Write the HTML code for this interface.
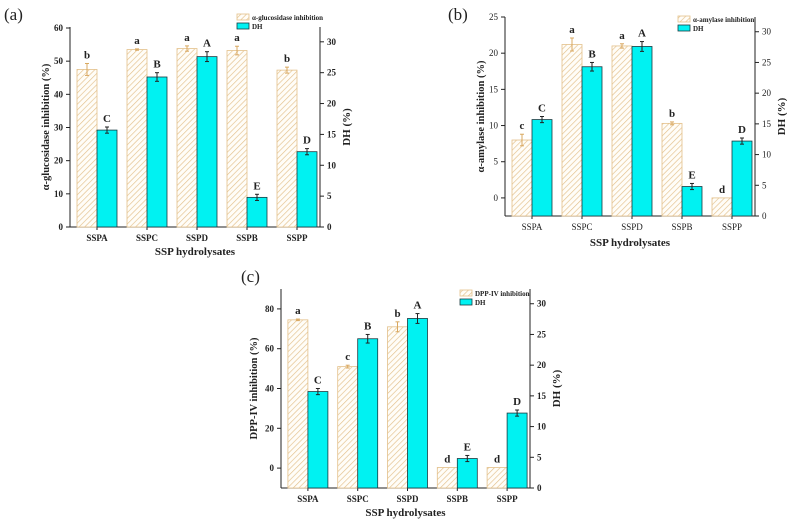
<!DOCTYPE html>
<html><head><meta charset="utf-8"><style>
body{margin:0;background:#fff;width:787px;height:526px;overflow:hidden}
svg{font-family:"Liberation Serif",serif}
</style></head><body>
<svg id="chart" width="787" height="526" xmlns="http://www.w3.org/2000/svg">
<defs>
<pattern id="hatch" patternUnits="userSpaceOnUse" width="4" height="4" patternTransform="rotate(45)">
<rect width="4" height="4" fill="#fffdf8"/><line x1="0" y1="0" x2="0" y2="4" stroke="#e3c08a" stroke-width="1.3"/>
</pattern>
</defs>
</svg>
<script>
const categories = ["SSPA","SSPC","SSPD","SSPB","SSPP"];
const dhValues = [15.7, 24.3, 27.6, 4.8, 12.2];
const dhErrors = [0.5, 0.7, 0.8, 0.5, 0.5];
const dhLetters = ["C","B","A","E","D"];
const glucValues = [47.5, 53.5, 53.8, 53.2, 47.3];
const glucErrors = [1.8, 0.2, 0.8, 1.3, 0.9];
const glucLetters = ["b","a","a","a","b"];
const amyValues = [8.0, 21.2, 21.0, 10.3, 0.0];
const amyErrors = [0.8, 0.9, 0.3, 0.2, 0];
const amyLetters = ["c","a","a","b","d"];
const dppValues = [74.5, 51.0, 71.0, 0.3, 0.3];
const dppErrors = [0.4, 0.7, 2.5, 0, 0];
const dppLetters = ["a","c","b","d","d"];
const glucTicks = [0,10,20,30,40,50,60];
const amyTicks = [0,5,10,15,20,25];
const dppTicks = [0,20,40,60,80];
const dhTicks = [0,5,10,15,20,25,30];

const svg = document.getElementById('chart');
const NS = 'http://www.w3.org/2000/svg';
function mk(tag, attrs, parent, text){
  const e = document.createElementNS(NS, tag);
  for (const k in attrs) e.setAttribute(k, attrs[k]);
  if (text !== undefined) e.textContent = text;
  (parent||svg).appendChild(e); return e;
}

function panel(cfg){
  const g = mk('g', {});
  
  
  const {L,R,T,B,yMin,yMax,y2Max} = cfg;
  const yL = v => B - (v - yMin)/(yMax - yMin)*(B - T);
  const yR = v => B - v/y2Max*(B - T);
  const step = (R - L)/categories.length;
  const xC = i => L + step*(i+0.5) + cfg.xShift;
  const fw = cfg.boldTicks ? 'bold' : 'normal';
  let e = mk('line',{x1:L,y1:T,x2:L,y2:B,stroke:'#222','stroke-width':1},g);
   
  e = mk('line',{x1:R,y1:T,x2:R,y2:B,stroke:'#222','stroke-width':1},g);
   
  e = mk('line',{x1:L,y1:B,x2:R,y2:B,stroke:'#222','stroke-width':1},g);
   
  cfg.ticks.forEach(t=>{
    const y = yL(t);
    mk('line',{x1:L-4,y1:y,x2:L,y2:y,stroke:'#222'},g);
    const tx = mk('text',{x:L-7,y:y+3,'font-size':9,'font-weight':fw,'text-anchor':'end',fill:'#222'},g,t);
     
  });
  dhTicks.forEach(t=>{
    const y = yR(t);
    mk('line',{x1:R,y1:y,x2:R+4,y2:y,stroke:'#222'},g);
    const tx = mk('text',{x:R+7,y:y+3,'font-size':9,'font-weight':fw,fill:'#222'},g,t);
     
  });
  categories.forEach((c,i)=>{
    const x = xC(i);
    mk('line',{x1:x,y1:B,x2:x,y2:B+3,stroke:'#222'},g);
    const tx = mk('text',{x:x,y:B+14,'font-size':9,'font-weight':fw,'text-anchor':'middle',fill:'#222'},g,c);
     
    const v = cfg.values[i];
    const y0 = B, y1 = yL(v);
    const b1 = mk('rect',{x:x-cfg.bw,y:y1,width:cfg.bw,height:y0-y1,fill:'url(#hatch)',stroke:'#e3c08a','stroke-width':0.8},g);
     
    const er = cfg.errors[i];
    if (er>0){
      const ea=yL(v+er), eb=yL(v-er);
      mk('line',{x1:x-cfg.bw/2,y1:ea,x2:x-cfg.bw/2,y2:eb,stroke:'#d9a860'},g);
      mk('line',{x1:x-cfg.bw/2-2,y1:ea,x2:x-cfg.bw/2+2,y2:ea,stroke:'#d9a860'},g);
      mk('line',{x1:x-cfg.bw/2-2,y1:eb,x2:x-cfg.bw/2+2,y2:eb,stroke:'#d9a860'},g);
    }
    let lt = mk('text',{x:x-cfg.bw/2,y:yL(v+er)-5,'font-size':11,'font-weight':'bold','text-anchor':'middle',fill:'#222'},g,cfg.letters[i]);
     
    const d = dhValues[i], yd = yR(d);
    const b2 = mk('rect',{x:x,y:yd,width:cfg.bw,height:B-yd,fill:'#00f2f2',stroke:'#1a3a40','stroke-width':0.8},g);
     
    const de = dhErrors[i], da=yR(d+de), db=yR(d-de), xm=x+cfg.bw/2;
    mk('line',{x1:xm,y1:da,x2:xm,y2:db,stroke:'#222'},g);
    mk('line',{x1:xm-2,y1:da,x2:xm+2,y2:da,stroke:'#222'},g);
    mk('line',{x1:xm-2,y1:db,x2:xm+2,y2:db,stroke:'#222'},g);
    lt = mk('text',{x:xm,y:da-5,'font-size':11,'font-weight':'bold','text-anchor':'middle',fill:'#222'},g,dhLetters[i]);
     
  });
  let t = mk('text',{x:(L+R)/2,y:cfg.xtY,'font-size':11,'font-weight':'bold','text-anchor':'middle',fill:'#222'},g,'SSP hydrolysates');
   
  t = mk('text',{x:0,y:0,'font-size':10.5,'font-weight':'bold','text-anchor':'middle',fill:'#222',transform:`translate(${L-cfg.ytOff},${(T+B)/2}) rotate(-90)`},g,cfg.ytitle);
   
  t = mk('text',{x:0,y:0,'font-size':11,'font-weight':'bold','text-anchor':'middle',fill:'#222',transform:`translate(${R+30},${(T+B)/2}) rotate(-90)`},g,'DH (%)');
   
  t = mk('text',{x:cfg.labX,y:cfg.labY,'font-size':17,fill:'#222'},g,cfg.label);
   
  const lx=cfg.legX, ly=cfg.legY;
  let s = mk('rect',{x:lx,y:ly,width:12,height:6,fill:'url(#hatch)',stroke:'#e3c08a','stroke-width':0.8},g);
   
  t = mk('text',{x:lx+15,y:ly+6,'font-size':7,'font-weight':'bold',fill:'#222'},g,cfg.legText);
   
  s = mk('rect',{x:lx,y:ly+9,width:12,height:6,fill:'#00f2f2',stroke:'#1a3a40','stroke-width':0.8},g);
   
  t = mk('text',{x:lx+15,y:ly+15,'font-size':7,'font-weight':'bold',fill:'#222'},g,'DH');
   
}

panel({name:'panel-a-glucosidase',L:70,R:320,T:27,B:227,yMin:0,yMax:60.3,y2Max:32.4,xShift:2,bw:20,
  values:glucValues,errors:glucErrors,letters:glucLetters,ticks:glucTicks,boldTicks:true,
  ytitle:'α-glucosidase inhibition (%)',ytOff:21,xtY:255,label:'(a)',labX:4,labY:20,
  legX:237,legY:14,legText:'α-glucosidase inhibition'});
panel({name:'panel-b-amylase',L:505,R:755,T:17,B:216,yMin:-2.5,yMax:25,y2Max:32.4,xShift:2,bw:20,
  values:amyValues,errors:amyErrors,letters:amyLetters,ticks:amyTicks,boldTicks:false,
  ytitle:'α-amylase inhibition (%)',ytOff:21,xtY:246,label:'(b)',labX:448,labY:20,
  legX:678,legY:16,legText:'α-amylase inhibition'});
panel({name:'panel-c-dppiv',L:281,R:530,T:289,B:488,yMin:-10,yMax:90,y2Max:32.4,xShift:2,bw:20,
  values:dppValues,errors:dppErrors,letters:dppLetters,ticks:dppTicks,boldTicks:true,
  ytitle:'DPP-IV inhibition (%)',ytOff:24,xtY:516,label:'(c)',labX:241,labY:282,
  legX:460,legY:290,legText:'DPP-IV inhibition'});
</script>
</body></html>
